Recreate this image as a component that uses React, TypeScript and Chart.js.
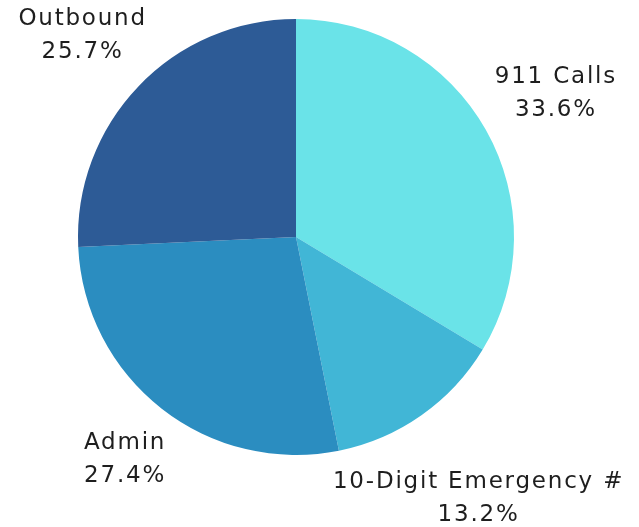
import React, { useEffect, useRef } from "react";
import { Chart, registerables } from "chart.js";

Chart.register(...registerables);

const categories = ["911 Calls", "10-Digit Emergency #", "Admin", "Outbound"];
const percents = [33.6, 13.2, 27.4, 25.7];
const sliceColors = ["#6ae3e8", "#41b6d6", "#2b8dc0", "#2d5b96"];

const FONT = "23px 'DejaVu Sans', sans-serif";
const SPACING = 1.8;
const LINE_H = 33;
const GAP = 10;

const outsideLabels = {
  id: "outsideLabels",
  afterDraw(chart: any) {
    const ctx = chart.ctx as any;
    const meta = chart.getDatasetMeta(0);
    ctx.save();
    ctx.font = FONT;
    ctx.letterSpacing = SPACING + "px";
    ctx.fillStyle = "#1e1e1e";
    ctx.textAlign = "center";
    ctx.textBaseline = "middle";
    meta.data.forEach((arc: any, i: number) => {
      const { x, y, startAngle, endAngle, outerRadius } = arc.getProps(
        ["x", "y", "startAngle", "endAngle", "outerRadius"],
        true
      );
      const mid = (startAngle + endAngle) / 2;
      const ux = Math.cos(mid);
      const uy = Math.sin(mid);
      const lines = [categories[i], percents[i].toFixed(1) + "%"];
      const w = Math.max(...lines.map((l) => ctx.measureText(l).width));
      const hw = w / 2;
      const hh = (LINE_H * lines.length) / 2;
      const target = outerRadius + GAP;
      const nearest = (d: number) => {
        const cx = x + ux * d;
        const cy = y + uy * d;
        const nx = Math.max(cx - hw, Math.min(x, cx + hw));
        const ny = Math.max(cy - hh, Math.min(y, cy + hh));
        return Math.hypot(nx - x, ny - y);
      };
      let lo = 0;
      let hi = outerRadius * 4;
      for (let k = 0; k < 60; k++) {
        const m = (lo + hi) / 2;
        if (nearest(m) < target) lo = m;
        else hi = m;
      }
      const cx = x + ux * lo + SPACING / 2;
      const cy = y + uy * lo + 3;
      lines.forEach((l, j) => {
        ctx.fillText(l, cx, cy - hh + LINE_H * (j + 0.5));
      });
    });
    ctx.restore();
  },
};

export default function App() {
  const ref = useRef<HTMLCanvasElement>(null);
  useEffect(() => {
    document.body.style.margin = "0";
    const chart = new Chart(ref.current!, {
      type: "pie",
      data: {
        labels: categories,
        datasets: [
          {
            data: percents,
            backgroundColor: sliceColors,
            borderWidth: 0,
          },
        ],
      },
      options: {
        responsive: false,
        animation: false,
        layout: { padding: { top: 19, bottom: 72, left: 78, right: 125 } },
        plugins: {
          legend: { display: false },
          tooltip: { enabled: false },
        },
      },
      plugins: [outsideLabels],
    });
    return () => chart.destroy();
  }, []);
  return (
    <div style={{ width: 639, height: 527, background: "#fff" }}>
      <canvas ref={ref} width={639} height={527} />
    </div>
  );
}
